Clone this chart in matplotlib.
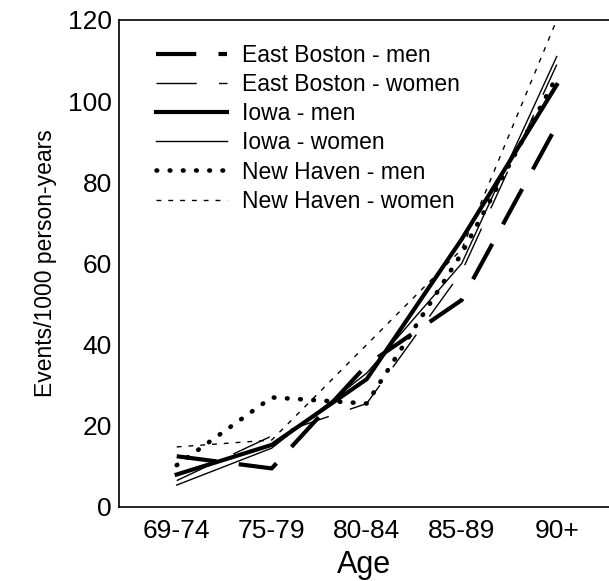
import matplotlib
matplotlib.use("Agg")
import matplotlib.pyplot as plt

plt.rcParams["font.family"] = ["Liberation Sans", "DejaVu Sans"]
plt.rcParams["lines.scale_dashes"] = False

# Incidence by age group, events per 1000 person-years
ages = ["69-74", "75-79", "80-84", "85-89", "90+"]
east_boston_men = [12.5, 9.5, 35, 51, 94]
east_boston_women = [6.5, 17.5, 25.5, 58, 109]
iowa_men = [8, 15.3, 31.5, 66, 104]
iowa_women = [5.4, 14.5, 33, 60, 111]
new_haven_men = [10.3, 27, 25.5, 62.5, 106]
new_haven_women = [14.8, 16.5, 40, 63.5, 120]

fig = plt.figure(figsize=(6.09, 5.81), dpi=100)
ax = fig.add_axes([0.195, 0.1274, 0.805, 0.8382])

x = range(len(ages))
ax.plot(x, east_boston_men, color="black", lw=3, dashes=(29, 16),
        label="East Boston - men")
ax.plot(x, east_boston_women, color="black", lw=1, dashes=(29, 16),
        label="East Boston - women")
ax.plot(x, iowa_men, color="black", lw=3, label="Iowa - men")
ax.plot(x, iowa_women, color="black", lw=1, label="Iowa - women")
ax.plot(x, new_haven_men, color="black", lw=3.3, dashes=(0.5, 9),
        dash_capstyle="round", label="New Haven - men")
ax.plot(x, new_haven_women, color="black", lw=1, dashes=(3.5, 5),
        label="New Haven - women")

ax.set_xlim(-0.61, 4.55)
ax.set_ylim(0, 120)
ax.set_xticks(list(x))
ax.set_xticklabels(ages)
ax.set_yticks(range(0, 121, 20))
ax.tick_params(axis="y", length=0, labelsize=19, pad=5)
ax.tick_params(axis="x", length=0, labelsize=19, pad=9)
ax.spines["right"].set_visible(False)
for s in ["left", "bottom", "top"]:
    ax.spines[s].set_linewidth(1.2)

ax.set_xlabel("Age", fontsize=22, labelpad=5)
ax.set_ylabel("Events/1000 person-years", fontsize=16.5, labelpad=8)

ax.legend(loc="upper left", bbox_to_anchor=(0.057, 0.97), frameon=False,
          fontsize=16.5, handlelength=3.1, handletextpad=0.65, labelspacing=0.27,
          borderaxespad=0)

fig.savefig("out.png", dpi=100)
